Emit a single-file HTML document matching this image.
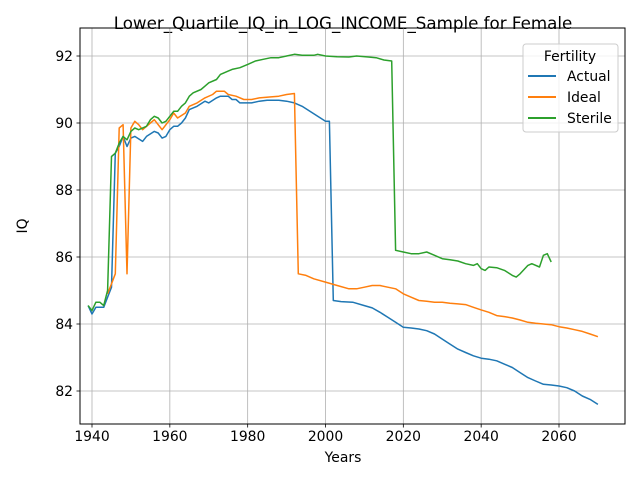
<!DOCTYPE html>
<html><head><meta charset="utf-8"><style>
body{margin:0;background:#fff;}
svg{display:block;font-family:"DejaVu Sans","Liberation Sans",sans-serif;}
</style></head><body>
<svg id="chart" width="640" height="480">
<rect width="640" height="480" fill="#fff"/>
<text x="343" y="29" text-anchor="middle" font-size="16.7">Lower_Quartile_IQ_in_LOG_INCOME_Sample for Female</text>
<g id="grid"></g>
<g id="series"></g>
<rect x="80" y="28" width="545" height="396" fill="none" stroke="#000" stroke-width="1"/>
<g id="ticks"></g>
<text x="343" y="462" text-anchor="middle" font-size="13.9">Years</text>
<text x="27" y="226" text-anchor="middle" font-size="13.9" transform="rotate(-90 27 226)">IQ</text>
<g>
<rect x="523" y="44" width="95" height="88" rx="3" fill="#fff" fill-opacity="0.8" stroke="#ccc"/>
<text x="570" y="61" text-anchor="middle" font-size="13.9">Fertility</text>
<g><line x1="528" y1="76" x2="556" y2="76" stroke="#1f77b4" stroke-width="2"/><text x="567" y="81" font-size="13.9">Actual</text></g>
<g><line x1="528" y1="97" x2="556" y2="97" stroke="#ff7f0e" stroke-width="2"/><text x="567" y="102" font-size="13.9">Ideal</text></g>
<g><line x1="528" y1="118" x2="556" y2="118" stroke="#2ca02c" stroke-width="2"/><text x="567" y="123" font-size="13.9">Sterile</text></g>
</g>
</svg>
<script>
const xTicks=[1940,1960,1980,2000,2020,2040,2060];
const yTicks=[82,84,86,88,90,92];
const actualYears=[1939,1940,1941,1943,1944,1945,1946,1947,1948,1949,1950,1951,1953,1954,1956,1957,1958,1959,1960,1961,1962,1963,1964,1965,1967,1969,1970,1972,1973,1975,1976,1977,1978,1980,1981,1983,1985,1988,1990,1992,1994,1996,1998,2000,2001,2002,2004,2007,2010,2012,2014,2016,2018,2020,2022,2024,2026,2028,2030,2032,2034,2036,2038,2040,2042,2044,2046,2048,2050,2052,2054,2056,2058,2060,2062,2064,2066,2068,2070];
const actualValues=[84.55,84.3,84.5,84.5,84.8,85.1,89.1,89.3,89.6,89.3,89.55,89.6,89.45,89.6,89.75,89.7,89.55,89.6,89.8,89.9,89.9,90.0,90.15,90.4,90.5,90.65,90.6,90.75,90.8,90.8,90.7,90.7,90.6,90.6,90.6,90.65,90.68,90.68,90.65,90.6,90.5,90.35,90.2,90.05,90.05,84.7,84.67,84.65,84.55,84.48,84.35,84.2,84.05,83.9,83.88,83.85,83.8,83.7,83.55,83.4,83.25,83.15,83.05,82.98,82.95,82.9,82.8,82.7,82.55,82.4,82.3,82.2,82.18,82.15,82.1,82.0,81.85,81.75,81.6];
const idealYears=[1944,1945,1946,1947,1948,1949,1950,1951,1952,1953,1955,1956,1958,1960,1961,1962,1964,1965,1967,1969,1971,1972,1974,1975,1977,1979,1981,1983,1986,1988,1990,1992,1993,1995,1997,2000,2003,2006,2008,2010,2012,2014,2016,2018,2020,2022,2024,2026,2028,2030,2032,2034,2036,2038,2040,2042,2044,2046,2048,2050,2052,2054,2056,2058,2060,2062,2064,2066,2068,2070];
const idealValues=[84.9,85.2,85.5,89.85,89.95,85.5,89.85,90.05,89.95,89.8,90.0,90.1,89.8,90.1,90.3,90.15,90.3,90.5,90.6,90.75,90.85,90.95,90.95,90.85,90.8,90.7,90.7,90.75,90.78,90.8,90.85,90.88,85.5,85.45,85.35,85.25,85.15,85.05,85.05,85.1,85.15,85.15,85.1,85.05,84.9,84.8,84.7,84.68,84.65,84.65,84.62,84.6,84.58,84.5,84.42,84.35,84.25,84.22,84.18,84.12,84.05,84.02,84.0,83.98,83.92,83.88,83.83,83.78,83.7,83.62];
const sterileYears=[1939,1940,1941,1942,1943,1944,1945,1946,1947,1948,1949,1950,1951,1952,1954,1955,1956,1957,1958,1959,1960,1961,1962,1963,1964,1965,1966,1968,1969,1970,1972,1973,1975,1976,1978,1980,1982,1984,1986,1988,1990,1992,1994,1997,1998,2000,2003,2006,2008,2011,2013,2015,2017,2018,2020,2022,2024,2026,2028,2030,2032,2034,2036,2038,2039,2040,2041,2042,2044,2046,2048,2049,2050,2052,2053,2055,2056,2057,2058];
const sterileValues=[84.55,84.4,84.65,84.65,84.55,85.0,89.0,89.1,89.4,89.6,89.5,89.75,89.85,89.8,89.9,90.1,90.2,90.15,90.0,90.05,90.2,90.35,90.35,90.5,90.6,90.8,90.9,91.0,91.1,91.2,91.3,91.45,91.55,91.6,91.65,91.75,91.85,91.9,91.95,91.95,92.0,92.05,92.02,92.02,92.05,92.0,91.98,91.97,92.0,91.97,91.95,91.88,91.85,86.2,86.15,86.1,86.1,86.15,86.05,85.95,85.92,85.88,85.8,85.75,85.8,85.65,85.6,85.7,85.68,85.6,85.45,85.4,85.5,85.75,85.8,85.7,86.05,86.1,85.85];

const NS="http://www.w3.org/2000/svg";
const xs=y=>92+(y-1940)*(467/120);
const ys=v=>391-(v-82)*33.5;
const grid=document.getElementById('grid'),ticks=document.getElementById('ticks'),series=document.getElementById('series');
function mk(tag,attrs,parent){const e=document.createElementNS(NS,tag);for(const k in attrs)e.setAttribute(k,attrs[k]);parent.appendChild(e);return e;}
xTicks.forEach(t=>{const x=xs(t);
 const g=mk('line',{x1:x,x2:x,y1:28,y2:424,stroke:'#b0b0b0','stroke-width':0.8},grid);
 
 
 mk('line',{x1:x,x2:x,y1:424,y2:427.5,stroke:'#000','stroke-width':0.8},ticks);
 const tx=mk('text',{x:x,y:441,'text-anchor':'middle','font-size':13.9},ticks);tx.textContent=t;
 
 
});
yTicks.forEach(t=>{const y=ys(t);
 const g=mk('line',{x1:80,x2:625,y1:y,y2:y,stroke:'#b0b0b0','stroke-width':0.8},grid);
 
 
 mk('line',{x1:76.5,x2:80,y1:y,y2:y,stroke:'#000','stroke-width':0.8},ticks);
 const tx=mk('text',{x:73,y:y+5,'text-anchor':'end','font-size':13.9},ticks);tx.textContent=t;
 
 
});
function drawLine(years,vals,color,name){
 const d=years.map((yr,i)=>(i?'L':'M')+xs(yr).toFixed(1)+' '+ys(vals[i]).toFixed(1)).join(' ');
 const p=mk('path',{d:d,fill:'none',stroke:color,'stroke-width':1.5,'stroke-linejoin':'round'},series);
 
 
}
drawLine(actualYears,actualValues,'#1f77b4','actual-line');
drawLine(idealYears,idealValues,'#ff7f0e','ideal-line');
drawLine(sterileYears,sterileValues,'#2ca02c','sterile-line');
</script>
</body></html>
